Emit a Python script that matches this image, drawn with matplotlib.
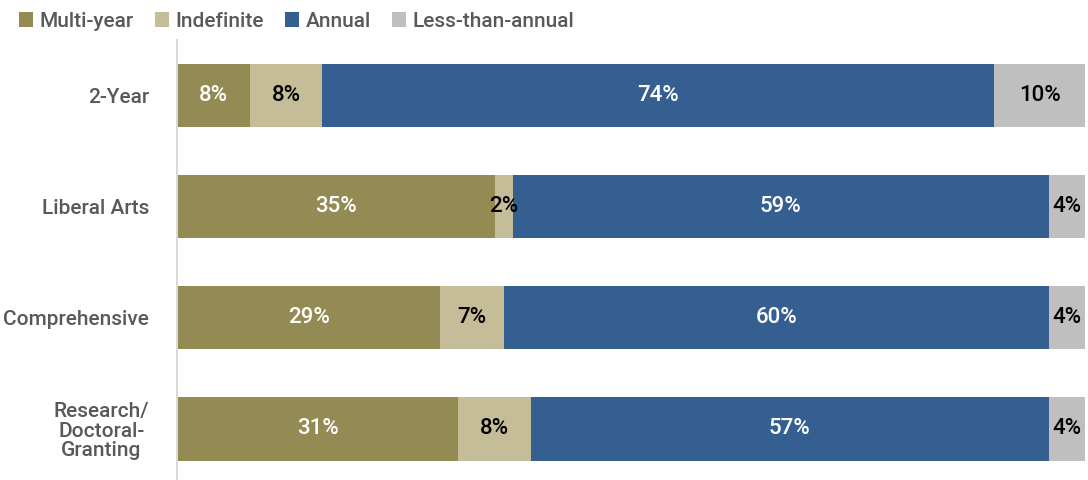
import numpy as np
import matplotlib.pyplot as plt

plt.rcParams['font.family'] = ['Roboto', 'DejaVu Sans']

categories = ["2-Year", "Liberal Arts", "Comprehensive", "Research/\nDoctoral-\nGranting"]
series = ["Multi-year", "Indefinite", "Annual", "Less-than-annual"]
multi_year = [8, 35, 29, 31]
indefinite = [8, 2, 7, 8]
annual = [74, 59, 60, 57]
less_than_annual = [10, 4, 4, 4]

colors = ["#948A54", "#C4BD97", "#365F91", "#BFBFBF"]
text_colors = ["white", "black", "white", "black"]

fig = plt.figure(figsize=(10.88, 4.8), dpi=100)
ax = fig.add_axes([0.1627, 0.0, 0.8345, 0.917])

y = np.arange(len(categories))
left = np.zeros(len(categories))
for name, vals, c, tc in zip(series, [multi_year, indefinite, annual, less_than_annual], colors, text_colors):
    vals = np.array(vals, dtype=float)
    ax.barh(y, vals, left=left, height=0.57, color=c, label=name)
    for yi, l, v in zip(y, left, vals):
        ax.text(l + v / 2, yi, f"{int(v)}%", ha="center", va="center", color=tc,
                fontsize=16, fontweight="medium")
    left += vals

ax.set_xlim(0, 100)
ax.set_ylim(3.46, -0.5)
ax.set_yticks(y)
ax.set_yticklabels(categories, fontsize=15, color="#595959", linespacing=1.05,
                   multialignment="center", fontweight="medium")
ax.tick_params(axis="y", length=0, pad=20)
ax.set_xticks([])
for s in ["top", "right", "bottom"]:
    ax.spines[s].set_visible(False)
ax.spines["left"].set_color("#D9D9D9")
ax.spines["left"].set_linewidth(1.5)

fig.legend(loc="upper left", bbox_to_anchor=(0.0, 1.015), ncol=4, frameon=False,
           prop={"size": 15, "weight": "medium"}, handlelength=0.7, handleheight=0.7,
           handletextpad=0.3, columnspacing=1.0, labelcolor="#595959")

plt.savefig("out.png", dpi=100)
